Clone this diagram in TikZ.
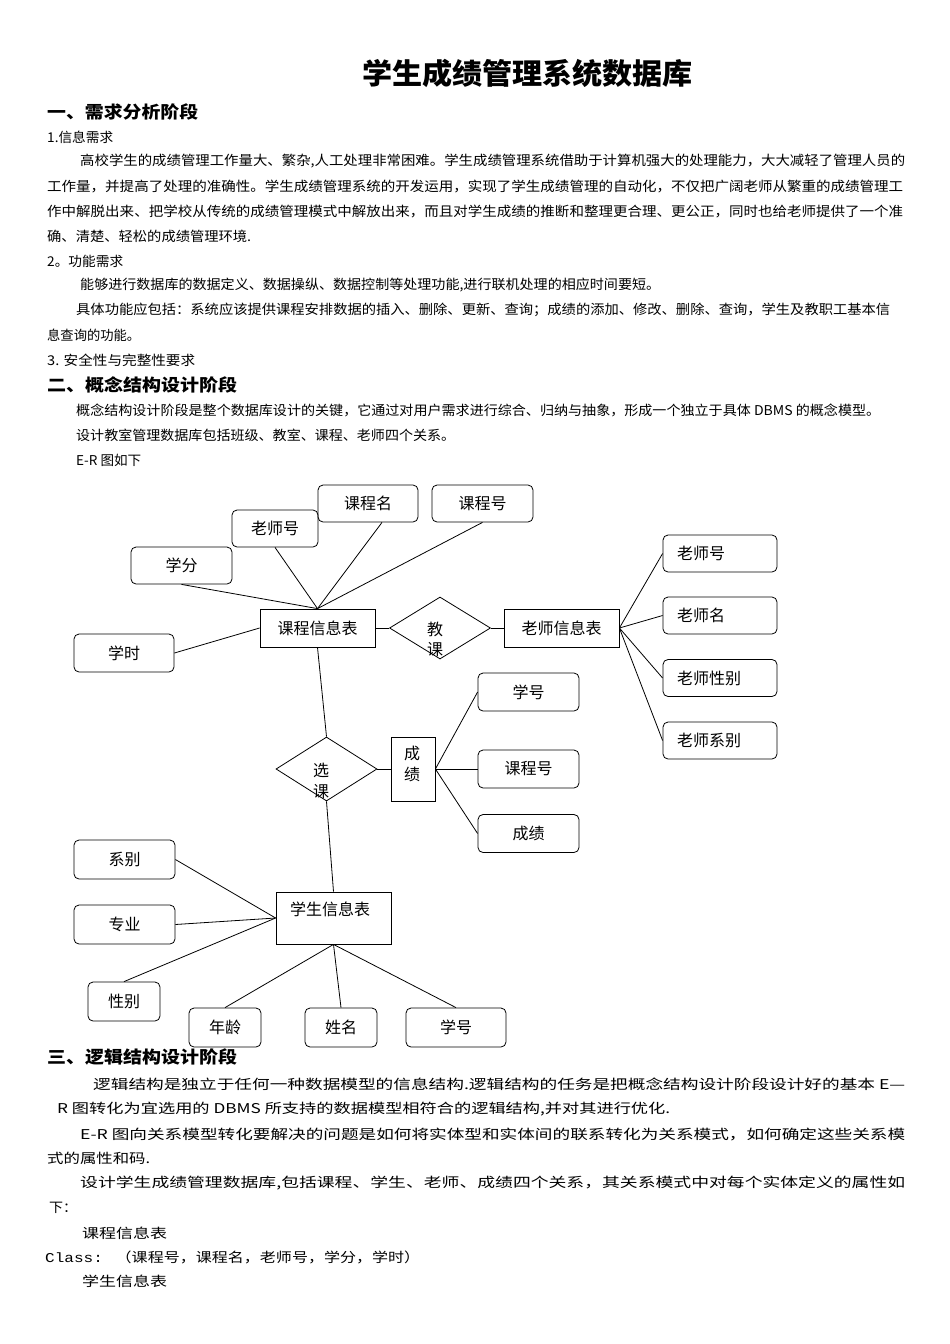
\documentclass[tikz,border=0pt]{standalone}
\usepackage{fontspec}
\usepackage{graphicx}
\setmainfont{Noto Sans CJK SC}
\newfontfamily\monof{Liberation Mono}
\usetikzlibrary{shapes.geometric}
\tikzset{
  attr/.style={draw, rounded corners=5pt, line width=0.8pt, inner sep=0pt, font=\fontsize{16}{20}\selectfont},
  tattr/.style={attr, minimum width=114pt, minimum height=37pt, text width=86pt, align=left, inner xsep=14pt},
  ent/.style={draw, line width=0.8pt, inner sep=0pt, font=\fontsize{16}{20}\selectfont},
  rel/.style={draw, diamond, line width=0.8pt, inner sep=0pt},
  lbl/.style={font=\fontsize{16}{20.5}\selectfont, align=center, inner sep=0pt},
  txt/.style={anchor=west, inner sep=0pt, font=\fontsize{13.5}{16}\selectfont},
  hd/.style={anchor=west, inner sep=0pt, font=\fontsize{17}{20}\selectfont\bfseries},
  conn/.style={line width=0.8pt},
}
\newcommand\tline[4]{\node[txt] (#1) at (#2) {\resizebox{#3pt}{\height}{#4}};}
\begin{document}
\begin{tikzpicture}[x=1pt,y=-1pt]
\useasboundingbox[fill=white] (0,0) rectangle (950,1344);
% title
\node[inner sep=0pt, font=\fontsize{29}{32}\selectfont\bfseries] (title) at (527.5,73) {\resizebox{331pt}{\height}{学生成绩管理系统数据库}};
% section 1
\node[hd] (h1) at (47,112) {\resizebox{151pt}{\height}{一、需求分析阶段}};
\tline{t1}{47,137}{66}{1.信息需求}
\tline{t2}{80,161}{825}{高校学生的成绩管理工作量大、繁杂,人工处理非常困难。学生成绩管理系统借助于计算机强大的处理能力，大大减轻了管理人员的}
\tline{t3}{47,186}{856}{工作量，并提高了处理的准确性。学生成绩管理系统的开发运用，实现了学生成绩管理的自动化，不仅把广阔老师从繁重的成绩管理工}
\tline{t4}{47,211}{856}{作中解脱出来、把学校从传统的成绩管理模式中解放出来，而且对学生成绩的推断和整理更合理、更公正，同时也给老师提供了一个准}
\tline{t5}{47,236}{204}{确、清楚、轻松的成绩管理环境.}
\tline{t6}{47,261}{76}{2。功能需求}
\tline{t7}{80,285}{580}{能够进行数据库的数据定义、数据操纵、数据控制等处理功能,进行联机处理的相应时间要短。}
\tline{t8}{76,310}{814}{具体功能应包括：系统应该提供课程安排数据的插入、删除、更新、查询；成绩的添加、修改、删除、查询，学生及教职工基本信}
\tline{t9}{47,335}{93}{息查询的功能。}
\tline{t10}{47,360}{148}{3. 安全性与完整性要求}
% section 2
\node[hd] (h2) at (47,385) {\resizebox{190pt}{\height}{二、概念结构设计阶段}};
\tline{t11}{76,410}{804}{概念结构设计阶段是整个数据库设计的关键，它通过对用户需求进行综合、归纳与抽象，形成一个独立于具体 DBMS 的概念模型。}
\tline{t12}{76,435}{379}{设计教室管理数据库包括班级、教室、课程、老师四个关系。}
\tline{t13}{76,460}{65}{E-R 图如下}
% ---------------- E-R diagram ----------------
\node[attr, minimum width=101pt, minimum height=37pt] (xf) at (181.5,565.5) {学分};
\node[attr, minimum width=86pt, minimum height=37pt] (lshT) at (275,528.5) {老师号};
\node[attr, minimum width=100pt, minimum height=37pt] (kcm) at (368,503.5) {课程名};
\node[attr, minimum width=101pt, minimum height=37pt] (kchT) at (482.5,503.5) {课程号};
\node[attr, minimum width=100pt, minimum height=38pt] (xsh) at (124,653) {学时};
\node[ent, minimum width=115pt, minimum height=38pt] (kc) at (317.5,628) {课程信息表};
\node[rel, minimum width=101pt, minimum height=62pt] (jk) at (440,628) {};
\node[lbl] (jkl) at (435,639.5) {教\\课};
\node[ent, minimum width=115pt, minimum height=38pt] (ls) at (561.5,628) {老师信息表};
\node[tattr] (lh) at (720,553.5) {老师号};
\node[tattr] (lm) at (720,615.5) {老师名};
\node[tattr] (lxb) at (720,678) {老师性别};
\node[tattr] (lxi) at (720,740.5) {老师系别};
\node[rel, minimum width=101pt, minimum height=64pt] (xk) at (326.5,769) {};
\node[lbl] (xkl) at (321,781) {选\\课};
\node[ent, minimum width=44pt, minimum height=64pt] (cj) at (413,769) {};
\node[lbl] (cjl) at (412,764) {成\\绩};
\node[attr, minimum width=101pt, minimum height=38pt] (sxh) at (528.5,692) {学号};
\node[attr, minimum width=101pt, minimum height=38pt] (skch) at (528.5,769) {课程号};
\node[attr, minimum width=101pt, minimum height=38pt] (scj) at (528.5,833.5) {成绩};
\node[ent, minimum width=115pt, minimum height=52pt] (xs) at (333.5,918) {};
\node[lbl] (xsl) at (330,909) {学生信息表};
\node[attr, minimum width=101pt, minimum height=39pt] (xb) at (124.5,859.5) {系别};
\node[attr, minimum width=101pt, minimum height=39pt] (zy) at (124.5,924.5) {专业};
\node[attr, minimum width=72pt, minimum height=39pt] (xbie) at (124,1001.5) {性别};
\node[attr, minimum width=72pt, minimum height=39pt] (nl) at (225,1027.5) {年龄};
\node[attr, minimum width=72pt, minimum height=39pt] (xm) at (341,1027.5) {姓名};
\node[attr, minimum width=100pt, minimum height=39pt] (xhb) at (456,1027.5) {学号};
% connectors
\draw[conn] (kc.north) -- (xf.south);
\draw[conn] (kc.north) -- (lshT.south);
\draw[conn] (kc.north) -- ([xshift=14pt]kcm.south);
\draw[conn] (kc.north) -- (kchT.south);
\draw[conn] (xsh.east) -- (kc.west);
\draw[conn] (kc.east) -- (jk.west);
\draw[conn] (jk.east) -- (ls.west);
\draw[conn] (ls.east) -- (lh.west);
\draw[conn] (ls.east) -- (lm.west);
\draw[conn] (ls.east) -- (lxb.west);
\draw[conn] (ls.east) -- (lxi.west);
\draw[conn] (kc.south) -- (xk.north);
\draw[conn] (xk.east) -- (cj.west);
\draw[conn] (cj.east) -- (sxh.west);
\draw[conn] (cj.east) -- (skch.west);
\draw[conn] (cj.east) -- (scj.west);
\draw[conn] (xk.south) -- (xs.north);
\draw[conn] (xb.east) -- (xs.west);
\draw[conn] (zy.east) -- (xs.west);
\draw[conn] (xbie.north) -- (xs.west);
\draw[conn] (nl.north) -- (xs.south);
\draw[conn] (xm.north) -- (xs.south);
\draw[conn] (xhb.north) -- (xs.south);
% section 3
\node[hd] (h3) at (47,1057) {\resizebox{190pt}{\height}{三、逻辑结构设计阶段}};
\tline{t14}{93,1084}{812}{逻辑结构是独立于任何一种数据模型的信息结构.逻辑结构的任务是把概念结构设计阶段设计好的基本 E—}
\tline{t15}{57,1109}{613}{R 图转化为宜选用的 DBMS 所支持的数据模型相符合的逻辑结构,并对其进行优化.}
\tline{t16}{80,1134}{825}{E-R 图向关系模型转化要解决的问题是如何将实体型和实体间的联系转化为关系模式，如何确定这些关系模}
\tline{t17}{47,1158}{103}{式的属性和码.}
\tline{t18}{80,1183}{825}{设计学生成绩管理数据库,包括课程、学生、老师、成绩四个关系，其关系模式中对每个实体定义的属性如}
\tline{t19}{49,1208}{28}{下：}
\tline{t20}{82,1233}{85}{课程信息表}
\tline{t21}{45,1257}{375}{{\monof Class: }（课程号，课程名，老师号，学分，学时）}
\tline{t22}{82,1281}{85}{学生信息表}
\end{tikzpicture}
\end{document}
